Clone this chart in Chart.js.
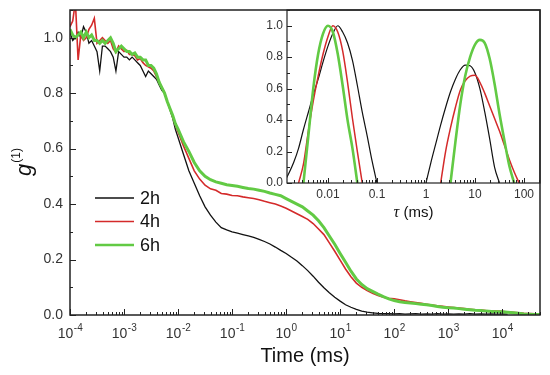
<!DOCTYPE html>
<html>
<head>
<meta charset="utf-8">
<script src="https://cdn.jsdelivr.net/npm/chart.js@4.4.1/dist/chart.umd.min.js"></script>
<style>
  body { margin: 0; background: #fff; }
  #wrap { position: relative; width: 550px; height: 375px; }
  #mainChart { position: absolute; left: 0; top: 0; }
  #insetChart { position: absolute; left: 250px; top: 0; }
</style>
</head>
<body>
<div id="wrap">
  <canvas id="mainChart" width="550" height="375"></canvas>
  <canvas id="insetChart" width="295" height="225"></canvas>
</div>
<script>
// ---- main panel: g(1) vs time, exponents of 10 (ms) ----
const mainLogT = [
  -4.00, -3.95, -3.90, -3.85, -3.80, -3.75, -3.70, -3.65, -3.60, -3.55,
  -3.50, -3.45, -3.40, -3.35, -3.30, -3.25, -3.20, -3.15, -3.10, -3.05,
  -3.00, -2.95, -2.90, -2.85, -2.80, -2.75, -2.70, -2.65, -2.60, -2.55,
  -2.50, -2.45, -2.40, -2.35, -2.30, -2.25, -2.20, -2.15, -2.10, -2.05, -2.00,
  -1.9, -1.8, -1.7, -1.6, -1.5, -1.4, -1.3, -1.2, -1.1, -1.0,
  -0.9, -0.8, -0.7, -0.6, -0.5, -0.4, -0.3, -0.2, -0.1, 0.0,
  0.1, 0.2, 0.3, 0.4, 0.5, 0.6, 0.7, 0.8, 0.9, 1.0,
  1.1, 1.2, 1.3, 1.4, 1.5, 1.6, 1.7, 1.8, 1.9, 2.0,
  2.1, 2.2, 2.3, 2.4, 2.5, 2.6, 2.7, 2.8, 2.9, 3.0,
  3.1, 3.2, 3.3, 3.4, 3.5, 3.6, 3.7, 3.8, 3.9, 4.0,
  4.1, 4.2, 4.3, 4.4, 4.5, 4.6, 4.7
];

const g2h = [
  1.02, 0.99, 1.00, 1.02, 1.00, 1.04, 1.02, 0.98, 0.99, 0.97,
  0.95, 0.88, 0.97, 0.97, 0.96, 0.95, 0.93, 0.88, 0.95, 0.94,
  0.93, 0.93, 0.92, 0.93, 0.92, 0.91, 0.90, 0.88, 0.86, 0.88,
  0.87, 0.86, 0.85, 0.83, 0.81, 0.80, 0.77, 0.74, 0.71, 0.67, 0.64,
  0.58, 0.52, 0.475, 0.43, 0.39, 0.36, 0.335, 0.315, 0.307, 0.30,
  0.295, 0.29, 0.285, 0.28, 0.273, 0.265, 0.256, 0.245, 0.233, 0.222,
  0.208, 0.195, 0.178, 0.16, 0.14, 0.118, 0.098, 0.08, 0.064, 0.05,
  0.037, 0.028, 0.02, 0.014, 0.01, 0.008, 0.006, 0.005, 0.005, 0.004,
  0.005, 0.003, 0.004, 0.005, 0.003, 0.004, 0.003, 0.005, 0.003, 0.004,
  0.003, 0.004, 0.003, 0.005, 0.003, 0.004, 0.003, 0.004, 0.003, 0.004,
  0.003, null, null, null, null, null, null
];

const g4h = [
  1.04, 1.06, 1.13, 0.92, 1.01, 0.99, 1.00, 1.03, 1.045, 1.07,
  0.98, 0.99, 1.00, 0.99, 0.98, 0.99, 0.96, 0.947, 0.97, 0.96,
  0.95, 0.955, 0.94, 0.94, 0.935, 0.92, 0.925, 0.91, 0.90, 0.895,
  0.89, 0.88, 0.86, 0.84, 0.82, 0.80, 0.77, 0.745, 0.715, 0.685, 0.66,
  0.61, 0.565, 0.52, 0.49, 0.468, 0.455, 0.45, 0.438, 0.436, 0.431,
  0.43, 0.426, 0.423, 0.42, 0.416, 0.41, 0.405, 0.40, 0.393, 0.385,
  0.375, 0.365, 0.355, 0.345, 0.33, 0.31, 0.29, 0.26, 0.23, 0.198,
  0.166, 0.138, 0.115, 0.10, 0.088, 0.078, 0.07, 0.064, 0.06, 0.058,
  0.055, 0.051, 0.048, 0.045, 0.042, 0.039, 0.036, 0.033, 0.031, 0.029,
  0.027, 0.025, 0.023, 0.021, 0.019, 0.018, 0.016, 0.015, 0.014, 0.013,
  0.011, 0.010, 0.008, 0.006, 0.005, 0.004, 0.003
];

const g6h = [
  1.03, 1.01, 1.00, 1.01, 1.02, 1.00, 1.02, 1.00, 1.01, 0.99,
  0.99, 0.98, 0.99, 0.98, 0.99, 1.00, 0.98, 0.95, 0.96, 0.97,
  0.96, 0.95, 0.95, 0.94, 0.945, 0.93, 0.93, 0.92, 0.92, 0.90,
  0.90, 0.89, 0.87, 0.84, 0.82, 0.80, 0.77, 0.745, 0.72, 0.69, 0.67,
  0.625, 0.59, 0.55, 0.52, 0.50, 0.488, 0.48, 0.475, 0.47, 0.467,
  0.464, 0.46, 0.456, 0.454, 0.45, 0.446, 0.44, 0.435, 0.43, 0.42,
  0.41, 0.40, 0.39, 0.375, 0.36, 0.34, 0.315, 0.285, 0.255, 0.222,
  0.19, 0.158, 0.13, 0.11, 0.095, 0.085, 0.075, 0.066, 0.058, 0.052,
  0.048, 0.045, 0.043, 0.041, 0.039, 0.037, 0.034, 0.031, 0.028, 0.026,
  0.025, 0.023, 0.021, 0.019, 0.017, 0.016, 0.014, 0.013, 0.012, 0.012,
  0.010, 0.008, 0.006, 0.004, 0.003, 0.002, 0.002
];

const seriesLabels = ['2h', '4h', '6h'];
const mainYTicks = [0, 0.2, 0.4, 0.6, 0.8, 1.0];
const mainXDecades = [-4, -3, -2, -1, 0, 1, 2, 3, 4];

// ---- inset: size distributions vs tau, exponents of 10 (ms) ----
const insetLogTau = [
  -2.9, -2.8, -2.7, -2.6, -2.5, -2.4, -2.3, -2.2, -2.1, -2.0,
  -1.9, -1.8, -1.7, -1.6, -1.5, -1.4, -1.3, -1.2, -1.1, -1.0,
  -0.9, -0.8, -0.7, -0.6, -0.5, -0.4, -0.3, -0.2, -0.1, 0.0,
  0.1, 0.2, 0.3, 0.4, 0.5, 0.6, 0.7, 0.8, 0.9, 1.0,
  1.1, 1.2, 1.3, 1.4, 1.5, 1.6, 1.7, 1.8, 1.9
];

const dist2h = [
  0, 0.06, 0.13, 0.22, 0.34, 0.45, 0.56, 0.66, 0.77, 0.87,
  0.95, 1.0, 0.96, 0.89, 0.78, 0.62, 0.45, 0.30, 0.14, 0,
  null, null, null, null, null, null, null, null, null, 0,
  0.13, 0.25, 0.37, 0.48, 0.58, 0.66, 0.72, 0.75, 0.745, 0.70,
  0.60, 0.45, 0.28, 0.10, 0, null, null, null, null
];

const dist4h = [
  null, null, null, 0, 0.12, 0.33, 0.52, 0.68, 0.82, 0.93,
  1.0, 0.96, 0.84, 0.64, 0.41, 0.20, 0, null, null, null,
  null, null, null, null, null, null, null, null, null, null,
  null, null, 0, 0.20, 0.35, 0.48, 0.59, 0.65, 0.68, 0.685,
  0.64, 0.57, 0.49, 0.41, 0.33, 0.24, 0.15, 0.07, 0
];

const dist6h = [
  null, null, null, null, 0, 0.30, 0.60, 0.82, 0.95, 1.0,
  0.96, 0.82, 0.62, 0.40, 0.22, 0, null, null, null, null,
  null, null, null, null, null, null, null, null, null, null,
  null, null, null, null, 0, 0.26, 0.50, 0.68, 0.80, 0.88,
  0.91, 0.89, 0.79, 0.63, 0.44, 0.27, 0.11, 0, null
];

const insetXTicks = [0.01, 0.1, 1, 10, 100];
const insetYTicks = [0, 0.2, 0.4, 0.6, 0.8, 1.0];

const colors = ['#111111', '#d42a2a', '#62ca44'];
const mainWidths = [1.3, 1.6, 3];
const insetWidths = [1.2, 1.5, 2.6];
const FONT = "'Liberation Sans', Arial, sans-serif";

function toPoints(logs, vals) {
  return logs.map((e, i) => ({ x: Math.pow(10, e), y: vals[i] }));
}

// frame round the plot area plus inward ticks (log x, linear y)
function drawFrameTicks(chart, opt) {
  const ctx = chart.ctx;
  const { left, right, top, bottom } = chart.chartArea;
  const xs = chart.scales.x, ys = chart.scales.y;
  ctx.save();
  ctx.strokeStyle = '#222';
  ctx.lineWidth = 1;
  ctx.beginPath();
  const lo = Math.floor(Math.log10(xs.min)), hi = Math.ceil(Math.log10(xs.max));
  for (let d = lo; d <= hi; d++) {
    for (let m = 1; m <= 9; m++) {
      const v = m * Math.pow(10, d);
      if (v < xs.min * 0.999 || v > xs.max * 1.001) continue;
      const px = Math.round(xs.getPixelForValue(v)) + 0.5;
      ctx.moveTo(px, bottom);
      ctx.lineTo(px, bottom - (m === 1 ? opt.major : opt.minor));
    }
  }
  for (let i = 0; i * 0.1 <= ys.max + 1e-9; i++) {
    const py = Math.round(ys.getPixelForValue(i * 0.1)) + 0.5;
    ctx.moveTo(left, py);
    ctx.lineTo(left + (i % 2 === 0 ? opt.major : opt.minor), py);
  }
  ctx.stroke();
  ctx.lineWidth = opt.frame;
  ctx.strokeRect(left, top, right - left, bottom - top);
  ctx.restore();
}

// keep chart area edges where the layout padding puts them
function noPadY(s, w) { s.width = w; s.paddingTop = 0; s.paddingBottom = 0; }
function noPadX(s, h) { s.height = h; s.paddingLeft = 0; s.paddingRight = 0; }

const mainDecor = {
  id: 'mainDecor',
  afterDatasetsDraw(chart) {
    drawFrameTicks(chart, { major: 6, minor: 3, frame: 1.5 });
    const ctx = chart.ctx;
    const xs = chart.scales.x;
    const { left, right, bottom } = chart.chartArea;
    ctx.save();
    ctx.fillStyle = '#333';
    // x tick labels as 10 with a raised exponent
    mainXDecades.forEach(e => {
      const px = xs.getPixelForValue(Math.pow(10, e));
      ctx.font = '14px ' + FONT;
      const w1 = ctx.measureText('10').width;
      const exp = String(e);
      ctx.font = '10px ' + FONT;
      const w2 = ctx.measureText(exp).width;
      const x0 = px - (w1 + w2) / 2;
      ctx.textAlign = 'left';
      ctx.textBaseline = 'alphabetic';
      ctx.font = '14px ' + FONT;
      ctx.fillText('10', x0, bottom + 23);
      ctx.font = '10px ' + FONT;
      ctx.fillText(exp, x0 + w1 + 0.5, bottom + 16);
    });
    // axis titles
    ctx.fillStyle = '#111';
    ctx.font = '20px ' + FONT;
    ctx.textAlign = 'center';
    ctx.textBaseline = 'middle';
    ctx.fillText('Time (ms)', (left + right) / 2, 356);
    ctx.save();
    ctx.translate(31, 176);
    ctx.rotate(-Math.PI / 2);
    ctx.textAlign = 'left';
    ctx.textBaseline = 'alphabetic';
    ctx.font = 'italic 22px ' + FONT;
    ctx.fillText('g', 0, 0);
    const gw = ctx.measureText('g').width;
    ctx.font = '12px ' + FONT;
    ctx.fillText('(1)', gw + 1, -11);
    ctx.restore();
    // legend inside the plot
    chart.data.datasets.forEach((ds, i) => {
      const y = 198 + i * 23.5;
      ctx.strokeStyle = ds.borderColor;
      ctx.lineWidth = Math.min(ds.borderWidth, 2.6);
      ctx.beginPath();
      ctx.moveTo(95, y);
      ctx.lineTo(134, y);
      ctx.stroke();
      ctx.fillStyle = '#111';
      ctx.font = '18px ' + FONT;
      ctx.textAlign = 'left';
      ctx.textBaseline = 'middle';
      ctx.fillText(ds.label, 140, y + 1);
    });
    ctx.restore();
  }
};

const insetDecor = {
  id: 'insetDecor',
  afterDatasetsDraw(chart) {
    drawFrameTicks(chart, { major: 5, minor: 3, frame: 1.2 });
    const ctx = chart.ctx;
    const { left, right } = chart.chartArea;
    ctx.save();
    ctx.fillStyle = '#111';
    ctx.textBaseline = 'middle';
    ctx.textAlign = 'left';
    ctx.font = 'italic 16px "Liberation Serif", serif';
    const wt = ctx.measureText('τ').width;
    ctx.font = '15px ' + FONT;
    const wr = ctx.measureText(' (ms)').width;
    const x0 = (left + right) / 2 - (wt + wr) / 2;
    ctx.font = 'italic 16px "Liberation Serif", serif';
    ctx.fillText('τ', x0, 213);
    ctx.font = '15px ' + FONT;
    ctx.fillText(' (ms)', x0 + wt, 213);
    ctx.restore();
  }
};

function makeSets(logs, arrays, widths, smooth) {
  return arrays.map((vals, i) => ({
    label: seriesLabels[i],
    data: toPoints(logs, vals),
    borderColor: colors[i],
    borderWidth: widths[i],
    pointRadius: 0,
    tension: smooth ? 0.4 : 0,
    cubicInterpolationMode: smooth ? 'monotone' : 'default',
    spanGaps: false,
    order: 3 - i
  }));
}

const mainChart = new Chart(document.getElementById('mainChart'), {
  type: 'line',
  data: { datasets: makeSets(mainLogT, [g2h, g4h, g6h], mainWidths, false) },
  options: {
    responsive: false,
    animation: false,
    devicePixelRatio: 1,
    layout: { padding: { top: 10, right: 10, left: 0, bottom: 0 } },
    plugins: { legend: { display: false }, tooltip: { enabled: false } },
    scales: {
      x: {
        type: 'logarithmic', min: 1e-4, max: 5e4,
        grid: { display: false }, border: { display: false },
        ticks: { display: false },
        afterFit(s) { noPadX(s, 60); }
      },
      y: {
        min: 0, max: 1.1,
        grid: { display: false, drawTicks: false }, border: { display: false },
        ticks: { padding: 7, color: '#333', font: { family: FONT, size: 14 }, callback: v => v.toFixed(1) },
        afterBuildTicks(s) { s.ticks = mainYTicks.map(v => ({ value: v })); },
        afterFit(s) { noPadY(s, 70); }
      }
    }
  },
  plugins: [mainDecor]
});

const insetChart = new Chart(document.getElementById('insetChart'), {
  type: 'line',
  data: { datasets: makeSets(insetLogTau, [dist2h, dist4h, dist6h], insetWidths, true) },
  options: {
    responsive: false,
    animation: false,
    devicePixelRatio: 1,
    layout: { padding: { top: 10, right: 5, left: 0, bottom: 0 } },
    plugins: { legend: { display: false }, tooltip: { enabled: false } },
    scales: {
      x: {
        type: 'logarithmic', min: 0.00146, max: 212,
        grid: { display: false, drawTicks: false }, border: { display: false },
        ticks: { padding: 4, color: '#333', font: { family: FONT, size: 12 }, maxRotation: 0, autoSkip: false, callback: v => String(v) },
        afterBuildTicks(s) { s.ticks = insetXTicks.map(v => ({ value: v })); },
        afterFit(s) { noPadX(s, 42); }
      },
      y: {
        min: 0, max: 1.1,
        grid: { display: false, drawTicks: false }, border: { display: false },
        ticks: { padding: 4, color: '#333', font: { family: FONT, size: 12 }, callback: v => v.toFixed(1) },
        afterBuildTicks(s) { s.ticks = insetYTicks.map(v => ({ value: v })); },
        afterFit(s) { noPadY(s, 37); }
      }
    }
  },
  plugins: [insetDecor]
});
</script>
</body>
</html>
